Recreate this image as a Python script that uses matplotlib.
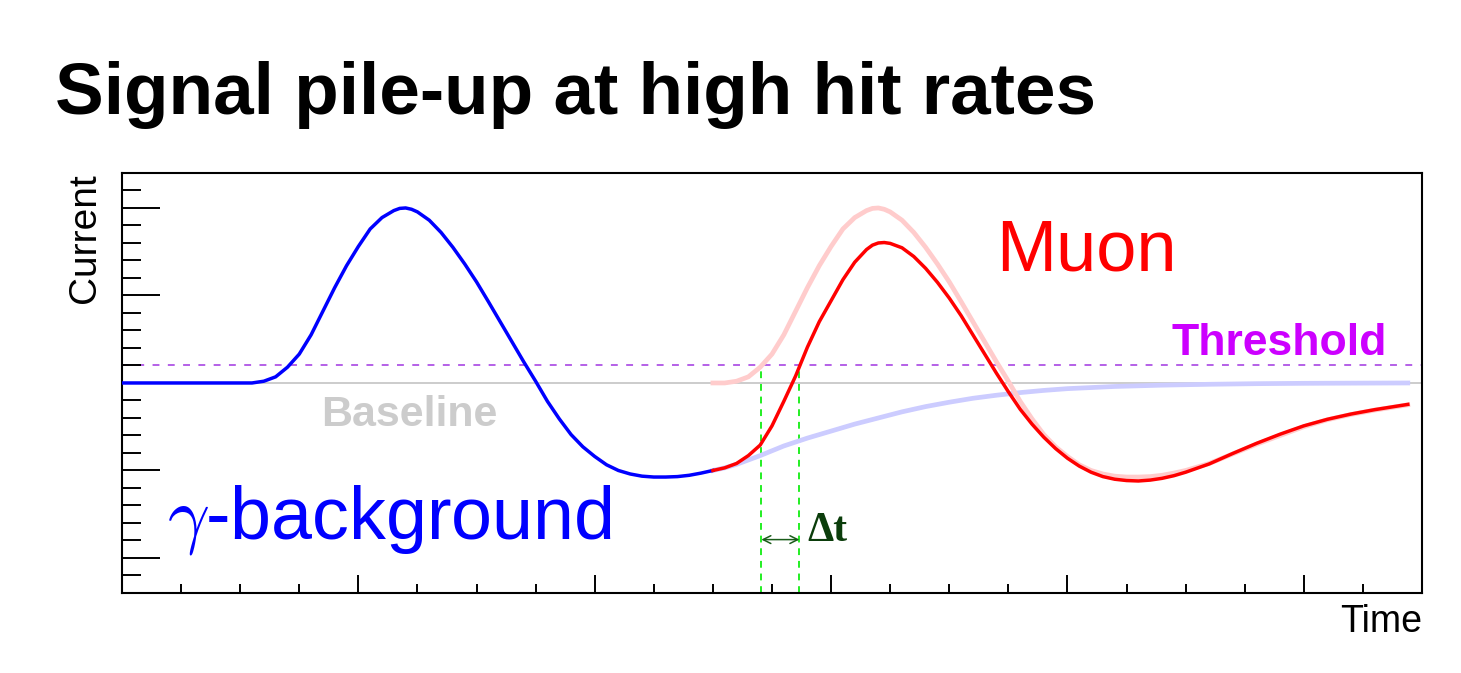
import matplotlib
matplotlib.use("Agg")
import matplotlib.pyplot as plt
from matplotlib.ticker import MultipleLocator

plt.rcParams['font.family'] = ['Liberation Sans', 'DejaVu Sans']
plt.rcParams['mathtext.fontset'] = 'cm'

# gamma-background pulse (time, current)
bkg_t = [0.0, 0.5, 0.55, 0.6, 0.65, 0.7, 0.75, 0.8, 0.85, 0.9, 0.95,
         1.0, 1.05, 1.1, 1.15, 1.175, 1.2, 1.225, 1.25, 1.3, 1.35, 1.4, 1.45,
         1.5, 1.55, 1.6, 1.65, 1.7, 1.75, 1.8, 1.85, 1.9, 1.95,
         2.0, 2.05, 2.1, 2.15, 2.2, 2.25, 2.3, 2.35, 2.4, 2.45, 2.5]
bkg_i = [0.0, 0.0, 0.0, 0.02, 0.07, 0.18, 0.33, 0.55, 0.82, 1.09, 1.34,
         1.56, 1.76, 1.89, 1.97, 1.995, 2.0, 1.985, 1.955, 1.86, 1.72, 1.55, 1.36,
         1.155, 0.93, 0.70, 0.47, 0.24, 0.02, -0.21, -0.41, -0.59, -0.73,
         -0.84, -0.935, -1.0, -1.04, -1.065, -1.075, -1.075, -1.07, -1.055, -1.03, -1.0]

# undershoot tail of the background pulse (drawn faint)
tail_t = [2.5, 2.55, 2.6, 2.65, 2.7, 2.8, 2.9, 3.0, 3.1, 3.2, 3.3, 3.4, 3.5,
          3.6, 3.7, 3.8, 3.9, 4.0, 4.2, 4.4, 4.6, 4.8, 5.0, 5.2, 5.44]
tail_i = [-1.0, -0.97, -0.93, -0.88, -0.83, -0.72, -0.63, -0.55, -0.47, -0.40, -0.33, -0.27, -0.22,
          -0.175, -0.14, -0.11, -0.085, -0.065, -0.04, -0.025, -0.015, -0.008, -0.004, -0.002, 0.0]

# muon pulse alone (faint) and piled up on the background tail
muon_t = [2.5, 2.55, 2.6, 2.65, 2.7, 2.75, 2.8, 2.85, 2.9, 2.95,
          3.0, 3.05, 3.1, 3.15, 3.175, 3.2, 3.225, 3.25, 3.3, 3.35, 3.4, 3.45,
          3.5, 3.55, 3.6, 3.65, 3.7, 3.75, 3.8, 3.85, 3.9, 3.95,
          4.0, 4.05, 4.1, 4.15, 4.2, 4.25, 4.3, 4.35, 4.4, 4.45,
          4.5, 4.6, 4.7, 4.8, 4.9, 5.0, 5.1, 5.2, 5.3, 5.44]
muon_alone_i = [0.0, 0.0, 0.02, 0.07, 0.18, 0.33, 0.55, 0.82, 1.09, 1.34,
                1.56, 1.76, 1.89, 1.97, 1.995, 2.0, 1.985, 1.955, 1.86, 1.72, 1.55, 1.36,
                1.155, 0.93, 0.70, 0.47, 0.24, 0.02, -0.21, -0.41, -0.59, -0.73,
                -0.84, -0.935, -1.0, -1.04, -1.065, -1.075, -1.075, -1.07, -1.055, -1.03,
                -1.0, -0.92, -0.81, -0.70, -0.60, -0.50, -0.42, -0.36, -0.31, -0.25]
muon_sum_i = [-1.0, -0.97, -0.92, -0.83, -0.71, -0.49, -0.21, 0.08, 0.41, 0.70,
              0.94, 1.18, 1.38, 1.525, 1.575, 1.60, 1.605, 1.595, 1.545, 1.445, 1.31, 1.15,
              0.97, 0.77, 0.55, 0.33, 0.11, -0.10, -0.30, -0.47, -0.62, -0.75,
              -0.86, -0.95, -1.02, -1.07, -1.10, -1.115, -1.12, -1.11, -1.09, -1.06,
              -1.02, -0.925, -0.805, -0.69, -0.585, -0.49, -0.415, -0.355, -0.305, -0.245]

THRESHOLD = 0.2
# threshold crossing times: muon alone / muon on background
cross_t = [2.705, 2.866]


fig = plt.figure(figsize=(14.61, 6.73), dpi=100)
ax = fig.add_axes([0.0835, 0.1189, 0.8898, 0.6241])

ax.axhline(0.0, color='#c8c8c8', lw=1.3, zorder=1)
ax.axhline(THRESHOLD, color='#a035e0', lw=1.1, ls=(0, (4.5, 5.5)), zorder=1)

ax.plot(tail_t, tail_i, color='#ccccff', lw=3.4, zorder=2, solid_joinstyle='round')
ax.plot(muon_t, muon_alone_i, color='#ffcccc', lw=3.4, zorder=2, solid_joinstyle='round')
ax.plot(bkg_t, bkg_i, color='#0000ff', lw=2.5, zorder=3, solid_joinstyle='round')
ax.plot(muon_t, muon_sum_i, color='#ff0000', lw=2.5, zorder=3, solid_joinstyle='round')

ax.vlines(cross_t, -2.4, THRESHOLD, colors='#22ee22', lw=1.4,
          linestyles=[(0, (3.5, 3.0))], zorder=1)
ax.annotate('', xy=(cross_t[0], -1.79), xytext=(cross_t[1], -1.79),
            arrowprops=dict(arrowstyle='<->', color='#1a5c1a', lw=1.1,
                            shrinkA=0, shrinkB=0, mutation_scale=14))
ax.text(2.90, -1.81, '\u0394t', color='#0b3d0b', fontsize=30,
        fontweight='bold', family='Liberation Serif', ha='left', va='baseline')

ax.text(1.215, -0.49, 'Baseline', color='#cccccc', fontsize=31,
        fontweight='bold', ha='center', va='baseline')
ax.text(0.19, -1.78, r'$\gamma$-background', color='#0000ff', fontsize=53,
        ha='left', va='baseline')
ax.text(3.70, 1.285, 'Muon', color='#ff0000', fontsize=52,
        ha='left', va='baseline')
ax.text(4.44, 0.316, 'Threshold', color='#cc00ff', fontsize=32,
        fontweight='bold', ha='left', va='baseline')

ax.set_xlim(0, 5.5)
ax.set_ylim(-2.4, 2.4)
ax.xaxis.set_major_locator(MultipleLocator(1))
ax.xaxis.set_minor_locator(MultipleLocator(0.25))
ax.yaxis.set_major_locator(MultipleLocator(1))
ax.yaxis.set_minor_locator(MultipleLocator(0.2))
ax.tick_params(which='both', direction='in', labelleft=False, labelbottom=False,
               top=False, right=False, width=1.4, color='black')
ax.tick_params(axis='y', which='major', length=27)
ax.tick_params(axis='y', which='minor', length=14)
ax.tick_params(axis='x', which='major', length=13)
ax.tick_params(axis='x', which='minor', length=6.5)
for sp in ax.spines.values():
    sp.set_linewidth(1.5)

ax.text(-0.0285, 1.0, 'Current', rotation=90, fontsize=28,
        ha='center', va='top', transform=ax.transAxes)
ax.text(1.0, -0.093, 'Time', fontsize=27, ha='right', va='baseline',
        transform=ax.transAxes)

fig.text(0.0376, 0.831, 'Signal pile-up at high hit rates', fontsize=52.5,
         fontweight='bold', ha='left', va='baseline')

fig.savefig('out.png', dpi=100)
